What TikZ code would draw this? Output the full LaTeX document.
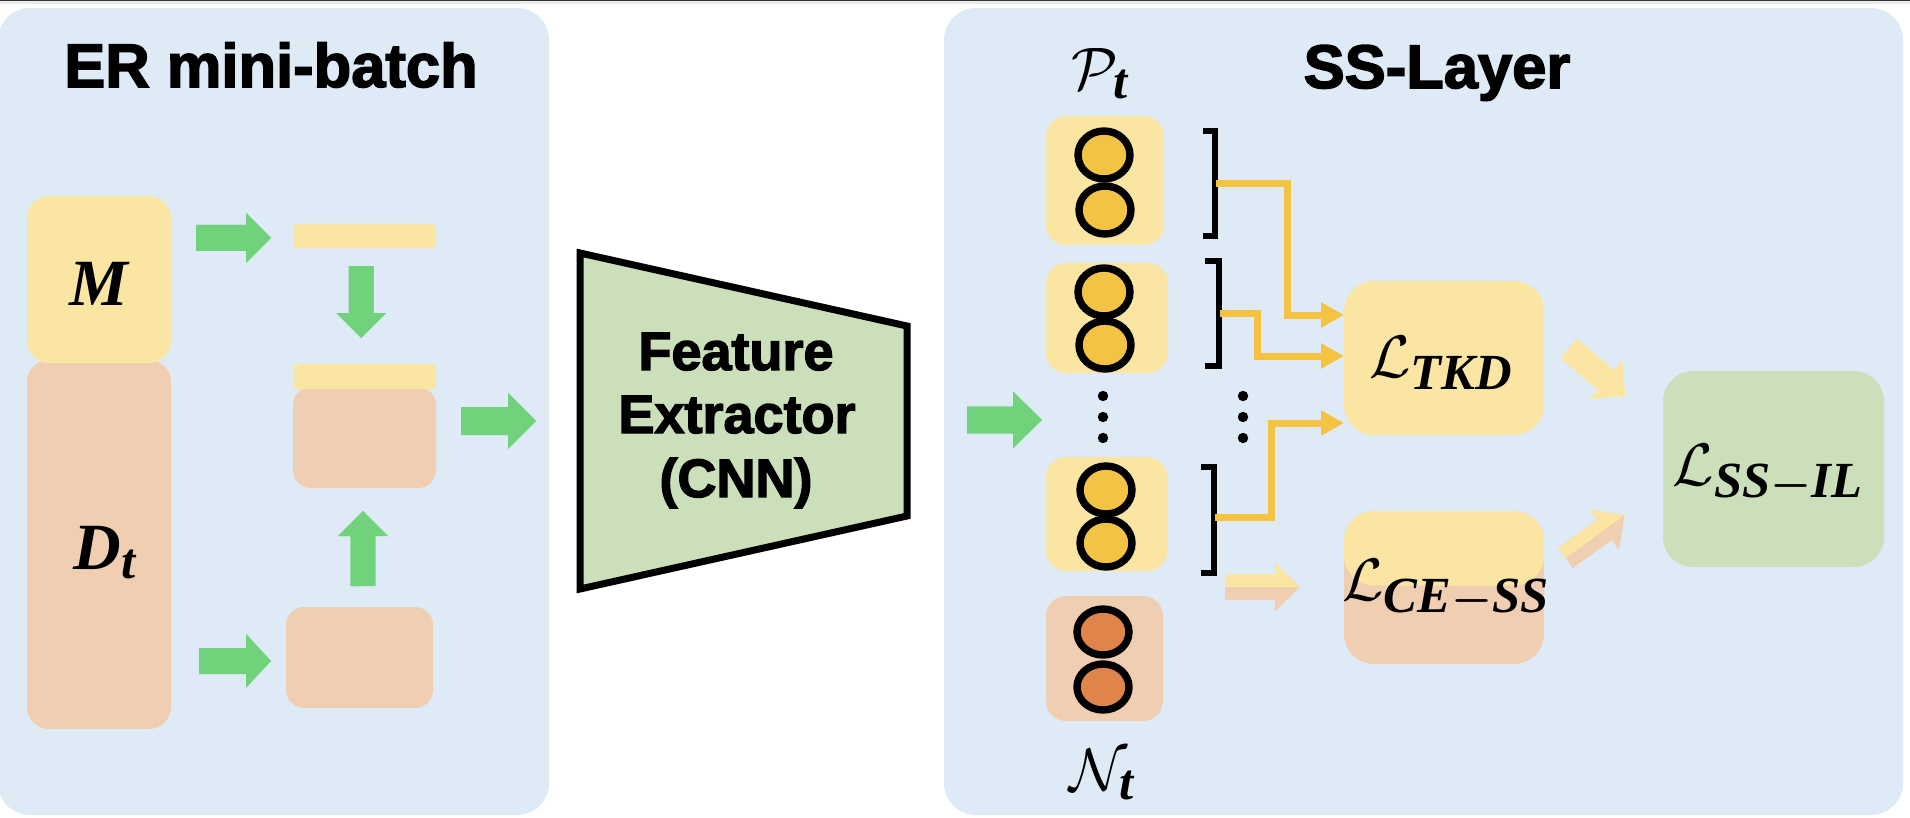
\RequirePackage{fix-cm}
\documentclass[tikz,border=0pt]{standalone}
\usepackage{amsmath,bm}
\usepackage{fontspec}
\newfontfamily\headfont{Liberation Sans}[BoldFeatures={FakeBold=2.5}]
\newfontfamily\bfitfont{Liberation Serif}[Scale=1.1]
\newcommand\bfi[1]{\text{\bfitfont\bfseries\itshape #1}}
\DeclareMathSizes{30}{30}{23}{18}
\usetikzlibrary{arrows.meta}
\definecolor{panel}{HTML}{DEEAF6}
\definecolor{yel}{HTML}{FBE5A3}
\definecolor{pch}{HTML}{F0CEB2}
\definecolor{garr}{HTML}{70D27A}
\definecolor{gbox}{HTML}{CBE0BA}
\definecolor{gold}{HTML}{F4C342}
\definecolor{cyel}{HTML}{F3C344}
\definecolor{corg}{HTML}{DF844A}
% box node from corners: name, x1, y1, x2, y2, style
\newcommand\bx[6]{\node[#6, minimum width={(#4-#2)*0.5pt}, minimum height={(#5-#3)*0.5pt}] (#1) at ({(#2+#4)/2},{(#3+#5)/2}) {};}
% block arrow: x, y (tail centre), angle, length, head length, shaft half width, head half width, upper colour, lower colour
\newcommand\barrow[9]{%
  \begin{scope}[shift={(#1,#2)}, rotate=#3]
    \fill[#9] (0,-#6) -- ({#4-#5},-#6) -- ({#4-#5},-#7) -- (#4,0) -- ({#4-#5},#7) -- ({#4-#5},#6) -- (0,#6) -- cycle;
    \fill[#8] (0,0) -- (0,-#6) -- ({#4-#5},-#6) -- ({#4-#5},-#7) -- (#4,0) -- cycle;
  \end{scope}}
\tikzset{
  rbox/.style={rectangle, inner sep=0pt, outer sep=0pt, draw=none},
  titlefont/.style={font={\headfont\bfseries\fontsize{30.75pt}{36pt}\selectfont}},
  fefont/.style={font={\headfont\bfseries\fontsize{27pt}{32pt}\selectfont}},
  mfont/.style={font={\fontsize{30pt}{36pt}\selectfont}},
  circ/.style={draw=black, line width=3.7pt},
  goldline/.style={draw=gold, line width=3.5pt, -{Triangle[length=11.5pt,width=12pt]}},
  brk/.style={draw=black, line width=3pt, line join=miter},
}
\begin{document}
\begin{tikzpicture}[x=0.5pt, y=-0.5pt]
\useasboundingbox (0,0) rectangle (1910,818);
\fill[white] (0,0) rectangle (1910,818);
\fill[black!80] (0,0) rectangle (1910,1.5);
\fill[black!8] (0,1.5) rectangle (1910,4.5);

% panels
\bx{lp}{-2}{8}{549}{815}{rbox, fill=panel, rounded corners=16pt}
\bx{rp}{944}{8}{1903}{815}{rbox, fill=panel, rounded corners=16pt}

% titles
\node[titlefont, anchor=base] (ert) at (271,87) {ER mini-batch};
\node[titlefont, anchor=base] (sst) at (1437,88) {SS-Layer};

% left panel boxes
\bx{dt}{27}{360}{171}{729}{rbox, fill=pch, rounded corners=11pt}
\bx{m}{27}{196}{171}{363}{rbox, fill=yel, rounded corners=11pt}
\node[mfont, anchor=base] (ml) at (99,305) {$\bfi{M}$};
\node[mfont, anchor=base] (dl) at (105,569) {$\bfi{D}_{\bfi{t}}$};

\bx{bar1}{293}{224}{436}{248}{rbox, fill=yel, rounded corners=2pt}
\bx{mixp}{293}{387}{436}{488}{rbox, fill=pch, rounded corners=9pt}
\bx{bar2}{293}{364}{436}{389}{rbox, fill=yel, rounded corners=2pt}
\bx{low}{286}{607}{433}{708}{rbox, fill=pch, rounded corners=9pt}

% green block arrows (left)
\barrow{196}{238}{0}{75}{25}{13}{25}{garr}{garr}
\barrow{199}{661}{0}{72}{25}{13}{27}{garr}{garr}
\barrow{361}{266}{-90}{72}{25}{12.5}{25}{garr}{garr}
\barrow{363}{586}{90}{75}{25}{12.5}{25}{garr}{garr}
\barrow{461}{421}{0}{75}{28}{14}{28}{garr}{garr}

% feature extractor
\draw[line width=3.5pt, fill=gbox, line join=miter] (580,253) -- (907,326) -- (907,516) -- (580,589) -- cycle;
\node[fefont, anchor=base] (fe1) at (736,370) {Feature};
\node[fefont, anchor=base] (fe2) at (737,433) {Extractor};
\node[fefont, anchor=base] (fe3) at (736,497) {(CNN)};

% arrow into SS-layer
\barrow{967}{420}{0}{75}{29}{13.5}{28.5}{garr}{garr}

% feature columns
\node[mfont, anchor=base] (pt) at (1100,90) {$\mathcal{P}_{\bfi{t}}$};
\node[mfont, anchor=base] (nt) at (1102,790) {$\mathcal{N}_{\bfi{t}}$};
\bx{c1}{1046}{116}{1164}{245}{rbox, fill=yel, rounded corners=10pt}
\bx{c2}{1046}{263}{1168}{373}{rbox, fill=yel, rounded corners=10pt}
\bx{c3}{1046}{457}{1167}{571}{rbox, fill=yel, rounded corners=10pt}
\bx{c4}{1046}{596}{1163}{721}{rbox, fill=pch, rounded corners=10pt}
\draw[circ, fill=cyel] (1104,155) ellipse [x radius=13pt, y radius=12pt];
\draw[circ, fill=cyel] (1105,210) ellipse [x radius=13pt, y radius=12pt];
\draw[circ, fill=cyel] (1104,292) ellipse [x radius=13pt, y radius=12pt];
\draw[circ, fill=cyel] (1105,345) ellipse [x radius=13pt, y radius=12pt];
\draw[circ, fill=cyel] (1106,490) ellipse [x radius=13pt, y radius=12pt];
\draw[circ, fill=cyel] (1106,543) ellipse [x radius=13pt, y radius=12pt];
\draw[circ, fill=corg] (1103,632) ellipse [x radius=13pt, y radius=11.5pt];
\draw[circ, fill=corg] (1103,687) ellipse [x radius=13pt, y radius=11.5pt];
\foreach \yy in {396,417,438} {
  \fill (1103,\yy) circle[radius=2.6pt];
  \fill (1243,\yy) circle[radius=2.6pt];
}

% brackets
\draw[brk] (1203,131) -- (1215,131) -- (1215,236) -- (1203,236);
\draw[brk] (1205,261) -- (1219,261) -- (1219,366) -- (1205,366);
\draw[brk] (1201,467) -- (1214,467) -- (1214,573) -- (1201,573);
\coordinate (b1) at (1216,184);
\coordinate (b2) at (1220,313);
\coordinate (b3) at (1215,517);

% loss boxes
\bx{tkd}{1344}{281}{1544}{435}{rbox, fill=yel, rounded corners=15pt}
\bx{ce}{1344}{511}{1544}{664}{rbox, fill=pch, rounded corners=15pt,
  path picture={\fill[yel] (path picture bounding box.north west) rectangle ([yshift=1pt]path picture bounding box.east);}}
\bx{ssil}{1663}{371}{1884}{567}{rbox, fill=gbox, rounded corners=15pt}
\node[mfont, anchor=base] (ltkd) at (1441,377) {$\mathcal{L}_{\bfi{TKD}}$};
\node[mfont, anchor=base] (lce) at (1446,600) {$\mathcal{L}_{\bfi{CE}\bm{-}\bfi{SS}}$};
\node[mfont, anchor=base] (lss) at (1768,485) {$\mathcal{L}_{\bfi{SS}\bm{-}\bfi{IL}}$};

% gold connectors
\coordinate (t1) at (tkd.west |- 0,315);
\coordinate (t2) at (tkd.west |- 0,356);
\coordinate (t3) at (tkd.west |- 0,423);
\draw[goldline] (b1) -- ++(71,0) |- (t1);
\draw[goldline] (b2) -- ++(37,0) |- (t2);
\draw[goldline] (b3) -- ++(56,0) |- (t3);

% faded arrows
\barrow{1225}{587}{0}{75}{25}{13}{24.5}{yel}{pch}
\barrow{1568.5}{348.5}{-40}{74}{25}{12.7}{25}{yel}{yel}
\barrow{1565.5}{558}{36}{73}{25}{12.5}{25}{yel}{pch}
\end{tikzpicture}
\end{document}
